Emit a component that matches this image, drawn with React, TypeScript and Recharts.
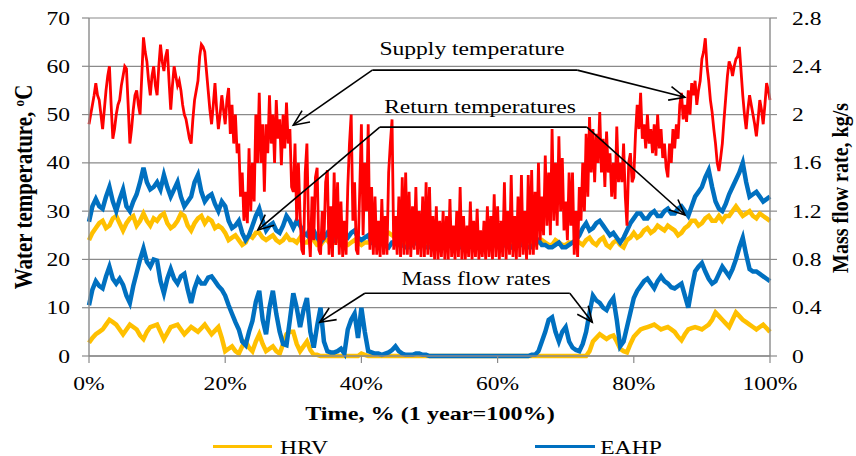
import React from "react";
import { CartesianGrid, Line, LineChart, ReferenceLine, XAxis, YAxis } from "recharts";

const SERIF = '"Liberation Serif", "Times New Roman", serif';
const STRETCH = 1.24;
const GRID = "#8a8a8a";
const RED = "#FF0000";
const BLUE = "#0070C0";
const YELLOW = "#FFC000";

const TIME_TICKS = [0, 20, 40, 60, 80, 100];
const TEMP_TICKS = [0, 10, 20, 30, 40, 50, 60, 70];
const FLOW_TICKS = [0, 0.4, 0.8, 1.2, 1.6, 2, 2.4, 2.8];

// supply temperature, °C, one value every 0.25 % of the year (20 per row = 5 %)
const supplyTemp = [
  48, 50, 52, 54, 56.5, 54, 53, 50, 47, 51, 55, 58, 60, 52, 45, 47, 50, 52, 53, 56,
  58, 60, 59.5, 52, 44, 47, 51, 54, 55, 52, 50, 58, 66, 63, 61, 57, 54, 58, 60, 56,
  54, 60, 64.5, 61, 59, 62, 63.5, 57, 51, 56, 60, 58, 56, 57, 55, 52, 50, 49, 47, 45,
  44, 49, 53, 55, 57, 62, 64.5, 64, 63, 59, 55, 51, 48, 52, 56.5, 51, 47, 50, 54, 51,
  48, 53, 55.5, 46, 52, 44, 50, 42, 44, 33, 38, 28, 34, 27.5, 43, 30, 40, 32, 50, 40,
  54.5, 40, 48, 34, 48, 42, 54, 44, 50, 40, 53, 45, 49, 39.5, 50, 43, 52.5, 44, 47, 35,
  34, 44, 28, 40, 29, 22, 21, 38, 44, 26, 20.5, 33, 24, 37, 39, 22, 21, 30, 24, 36,
  38.5, 21, 31, 20.5, 38, 23, 36, 21, 32, 20.5, 28, 21, 35, 44, 50, 28, 36, 22, 21, 34,
  48, 25, 40, 30, 48, 22, 35, 21, 33, 21, 28, 20.5, 32.5, 21, 29, 21, 38, 44, 49, 22,
  29, 21, 33, 20.5, 37, 21, 38, 21, 34, 20.5, 31, 22, 35, 21, 30, 20.5, 33, 20.5, 36, 21,
  35, 20.5, 29, 20, 31, 20, 28, 20.5, 30, 20, 29, 20, 32.5, 20.5, 27, 20, 30, 20.5, 35, 20,
  29, 20, 27, 20.5, 32, 20, 28, 20.5, 30.5, 20, 26, 20.5, 28, 20, 31, 20.5, 29, 20, 33.5, 20.5,
  31, 20, 28, 20.5, 36, 20, 30, 21, 37.5, 20.5, 29, 20, 33, 20.5, 37.5, 21, 30, 20, 37.5, 21,
  38.5, 21, 34, 22, 40, 24, 33, 25, 41.5, 27, 38, 25, 47, 28, 40, 27, 45.5, 30, 41, 26,
  32, 24, 38, 27, 38, 21, 30, 20.5, 35, 28, 40, 30, 46, 33, 49.5, 38, 47, 36, 46, 40,
  50.5, 38, 45, 35, 46.5, 38, 42, 33, 40, 32.5, 47.5, 36, 40, 36, 44, 33, 27, 40, 42, 36,
  37, 46, 52, 47, 54.5, 45, 48, 43, 50, 44, 47, 42, 48, 41.5, 50, 43, 47, 41, 44, 39,
  37, 44, 40, 47, 43, 48, 45, 52, 54.5, 49, 52, 48.5, 55, 50, 56.5, 54, 57, 52, 55, 57,
  61.5, 63, 65.8, 60, 57, 53, 50.5, 47, 44, 40, 38.3, 41, 44, 49, 53.5, 58, 61, 60, 58, 60,
  61.5, 62, 64, 59, 54, 50, 47, 51, 54, 52, 50, 48, 45.5, 49, 53, 51, 48, 52, 56.5, 55,
  53,
];

// return temperatures, °C, one value every 0.5 % (20 per row = 10 %)
const hrvReturn = [
  24, 25.5, 26.5, 27.5, 28, 26.5, 27, 28.5, 29, 27.5, 26, 27.5, 28.5, 29, 27, 28, 29.5, 28, 27, 28.5,
  28, 29, 29.5, 27.5, 26.5, 27, 28, 29.5, 29, 27, 26, 27.5, 28.5, 29, 27.5, 28.5, 28, 26.5, 27, 26.5,
  25.5, 24, 24.5, 25, 24, 23, 23.5, 25, 24.5, 25.5, 25.5, 24.5, 24, 24.5, 25, 24, 23.5, 24, 25, 24,
  24, 23.5, 24.5, 23.5, 23.5, 24.5, 24, 23, 23, 24, 24, 23, 23.5, 24, 24, 23, 23, 23.5, 24, 23.5,
  23, 23.5, 23.5, 24, 23.5, 25, 24.5, 25.5, 25.5, 25, 24.5, 24, 24, 23.5, 23.5, 24, 23.5, 23, 23, 23.5,
  23, 23.5, 23.5, 23, 23, 23.5, 23.5, 23, 23, 23.5, 23, 23.5, 23.5, 23, 23, 23.5, 23, 23, 23.5, 23,
  23, 23.5, 23, 23, 23.5, 23, 23, 23.5, 23, 23.5, 23.5, 23, 23.5, 24, 23.5, 23, 23, 24, 23.5, 23,
  23, 23.5, 23.5, 24, 23.5, 23, 24, 24.5, 23.5, 23, 24, 24.5, 23, 22.5, 23.5, 24, 23, 22.5, 24, 24.5,
  25.5, 24.5, 25, 26, 26.5, 25.5, 26, 27, 26.5, 26, 27, 26.5, 26, 25, 25.5, 26.5, 27, 28, 28, 27,
  27.5, 28.5, 29, 28, 28, 29, 28, 29, 29, 30, 31, 30, 29, 29.5, 30, 29, 28.5, 29.5, 29, 28.5,
  28,
];
const eahpReturn = [
  27.8, 31, 32.5, 31, 30.5, 33, 35, 32, 30, 32.5, 34.5, 31, 30, 32, 33.5, 36, 39, 36, 34.5, 35,
  36, 34.5, 37.5, 35, 33, 34.5, 36, 33, 31, 32, 33, 36, 37.5, 34, 32, 33, 33.5, 31.5, 30, 32,
  31, 28, 26.5, 27, 28, 25.5, 24, 25, 27, 29, 30.5, 28, 26, 27, 27.5, 26, 25.5, 27, 29, 28,
  26.5, 28, 27, 25.5, 25, 26.5, 26, 24.5, 23.5, 24.5, 25.5, 24.5, 24, 25, 26, 25, 24.5, 25.5, 26, 24.5,
  24, 24.5, 25, 23.5, 23, 23.5, 24, 23, 22.5, 23.5, 23.5, 23, 23, 22.5, 22.5, 23, 23.5, 23, 23, 22.5,
  22.5, 23, 23, 22.5, 22.5, 23, 23.5, 23, 22.5, 22.5, 23, 23.5, 23, 22.5, 22.5, 23, 23.5, 23, 22.5, 23,
  23, 22.5, 23, 23, 22.5, 23, 23.5, 23, 23, 22.5, 22.5, 23.5, 24, 23, 23, 22.5, 22.5, 23, 23.5, 22.5,
  22.5, 23, 23.5, 24, 25, 26.5, 27.5, 26, 26.5, 27.5, 28, 27, 26, 25, 25.5, 24.5, 23.5, 24.5, 26, 27.5,
  28.5, 29.5, 29.5, 28.5, 28.5, 29.5, 30, 29, 29, 30, 30.5, 29.5, 29.5, 30.5, 31, 30, 29, 31, 33, 34,
  35, 37, 38.5, 35, 32, 30.5, 30, 31.5, 33.5, 35, 36.5, 38, 40, 36, 33, 33.5, 34, 33, 32, 32.5,
  33,
];

// mass flow rates, kg/s, one value every 0.5 % (20 per row = 10 %)
const hrvFlow = [
  0.11, 0.15, 0.18, 0.2, 0.22, 0.26, 0.3, 0.28, 0.26, 0.22, 0.18, 0.22, 0.26, 0.24, 0.22, 0.17, 0.14, 0.2, 0.24, 0.25,
  0.26, 0.2, 0.14, 0.19, 0.24, 0.25, 0.26, 0.22, 0.18, 0.21, 0.24, 0.22, 0.2, 0.23, 0.26, 0.22, 0.18, 0.21, 0.24, 0.15,
  0.04, 0.06, 0.08, 0.04, 0.02, 0.08, 0.12, 0.07, 0.04, 0.12, 0.18, 0.1, 0.04, 0.06, 0.08, 0.04, 0.02, 0.1, 0.18, 0.2,
  0.2, 0.1, 0.04, 0.08, 0.12, 0.05, 0.01, 0.01, 0, 0, 0, 0, 0, 0, 0, 0, 0, 0, 0, 0,
  0.02, 0.01, 0, 0, 0, 0, 0, 0, 0, 0, 0, 0, 0, 0, 0, 0, 0, 0, 0, 0,
  0, 0, 0, 0, 0, 0, 0, 0, 0, 0, 0, 0, 0, 0, 0, 0, 0, 0, 0, 0,
  0, 0, 0, 0, 0, 0, 0, 0, 0, 0, 0, 0, 0, 0, 0, 0, 0, 0, 0, 0,
  0, 0, 0, 0, 0, 0, 0, 0.04, 0.12, 0.15, 0.18, 0.16, 0.14, 0.16, 0.17, 0.12, 0.06, 0.04, 0.03, 0.1,
  0.16, 0.19, 0.22, 0.23, 0.24, 0.25, 0.26, 0.24, 0.22, 0.23, 0.24, 0.22, 0.2, 0.16, 0.13, 0.18, 0.22, 0.23, 0.24, 0.23,
  0.22, 0.24, 0.26, 0.3, 0.36, 0.33, 0.3, 0.27, 0.24, 0.3, 0.36, 0.33, 0.3, 0.28, 0.26, 0.24, 0.22, 0.24, 0.26, 0.23,
  0.2,
];
const eahpFlow = [
  0.42, 0.55, 0.62, 0.58, 0.56, 0.66, 0.74, 0.64, 0.6, 0.64, 0.59, 0.5, 0.44, 0.58, 0.69, 0.8, 0.89, 0.78, 0.74, 0.8,
  0.79, 0.62, 0.52, 0.64, 0.72, 0.64, 0.6, 0.66, 0.68, 0.55, 0.44, 0.56, 0.64, 0.6, 0.6, 0.65, 0.66, 0.62, 0.58, 0.55,
  0.5, 0.42, 0.35, 0.28, 0.22, 0.12, 0.09, 0.2, 0.29, 0.45, 0.54, 0.3, 0.18, 0.4, 0.54, 0.35, 0.2, 0.1, 0.09, 0.3,
  0.52, 0.4, 0.24, 0.38, 0.48, 0.2, 0.07, 0.25, 0.4, 0.12, 0.04, 0.03, 0.03, 0.04, 0.06, 0.02, 0.22, 0.3, 0.35, 0.15,
  0.4, 0.2, 0.04, 0.03, 0.02, 0.02, 0.01, 0.02, 0.03, 0.05, 0.08, 0.04, 0.02, 0.01, 0.01, 0.01, 0.02, 0.02, 0.01, 0.01,
  0, 0, 0, 0, 0, 0, 0, 0, 0, 0, 0, 0, 0, 0, 0, 0, 0, 0, 0, 0,
  0, 0, 0, 0, 0, 0, 0, 0, 0, 0, 0.01, 0.01, 0.04, 0.12, 0.2, 0.3, 0.32, 0.2, 0.12, 0.2,
  0.24, 0.12, 0.07, 0.05, 0.04, 0.1, 0.2, 0.36, 0.5, 0.46, 0.44, 0.4, 0.38, 0.44, 0.48, 0.3, 0.08, 0.12, 0.24, 0.36,
  0.48, 0.54, 0.58, 0.62, 0.64, 0.6, 0.56, 0.62, 0.66, 0.62, 0.6, 0.57, 0.56, 0.58, 0.6, 0.5, 0.4, 0.56, 0.7, 0.74,
  0.77, 0.7, 0.64, 0.6, 0.62, 0.68, 0.74, 0.7, 0.66, 0.72, 0.8, 0.9, 0.98, 0.84, 0.72, 0.7, 0.7, 0.68, 0.66, 0.64,
  0.62,
];

const toSeries = (values: number[], step: number) => values.map((v, i) => ({ t: i * step, v }));

const supplyData = toSeries(supplyTemp, 0.25);
const hrvReturnData = toSeries(hrvReturn, 0.5);
const eahpReturnData = toSeries(eahpReturn, 0.5);
const hrvFlowData = toSeries(hrvFlow, 0.5);
const eahpFlowData = toSeries(eahpFlow, 0.5);

// callout arrows in (time %, °C): a horizontal bar and two pointers
const CALLOUTS = [
  { left: [41.6, 59.2], right: [71.7, 59.2], tipL: [30.0, 47.8], tipR: [87.5, 53.6] },
  { left: [42.7, 47.4], right: [73.1, 47.4], tipL: [24.8, 26.1], tipR: [87.5, 29.2] },
  { left: [40.5, 13.0], right: [70.6, 13.0], tipL: [33.9, 7.0], tipR: [73.9, 7.0] },
];

const plainSeg = (p: any) => (
  <line x1={p.x1} y1={p.y1} x2={p.x2} y2={p.y2} stroke="#000" strokeWidth={1.6} />
);

const arrowSeg = (p: any) => {
  const a = Math.atan2(p.y2 - p.y1, p.x2 - p.x1);
  const len = 17;
  const w = 0.42;
  const ax = p.x2 - len * Math.cos(a - w);
  const ay = p.y2 - len * Math.sin(a - w);
  const bx = p.x2 - len * Math.cos(a + w);
  const by = p.y2 - len * Math.sin(a + w);
  return (
    <g stroke="#000" strokeWidth={1.6} fill="none">
      <line x1={p.x1} y1={p.y1} x2={p.x2} y2={p.y2} />
      <path d={`M${ax},${ay} L${p.x2},${p.y2} L${bx},${by}`} />
    </g>
  );
};

const tickText = (anchor: "start" | "middle" | "end", dy: number, fmt: (v: number) => string) =>
  (p: any) => (
    <g transform={`translate(${p.x},${p.y})`}>
      <text transform={`scale(${STRETCH},1)`} textAnchor={anchor} dy={dy} fontFamily={SERIF} fontSize={19} fill="#000">
        {fmt(p.payload.value)}
      </text>
    </g>
  );

const textStyle = (x: number, y: number, extra: React.CSSProperties = {}): React.CSSProperties => ({
  position: "absolute",
  left: x,
  top: y,
  transform: `translate(-50%,-50%) scaleX(${STRETCH})`,
  whiteSpace: "nowrap",
  fontFamily: SERIF,
  fontSize: 19,
  lineHeight: 1,
  color: "#000",
  ...extra,
});

const vTitle = (x: number, y: number, size: number): React.CSSProperties => ({
  position: "absolute",
  left: x,
  top: y,
  transform: `translate(-50%,-50%) rotate(-90deg) scaleY(1.15)`,
  whiteSpace: "nowrap",
  fontFamily: SERIF,
  fontSize: size,
  fontWeight: "bold",
  lineHeight: 1,
  color: "#000",
});

export default function App() {
  return (
    <div style={{ position: "absolute", left: 0, top: 0, width: 856, height: 456, background: "#fff", overflow: "hidden" }}>
      <LineChart width={856} height={456} margin={{ top: 18, right: 46, left: 49, bottom: 70 }}>
        <CartesianGrid yAxisId="temp" vertical={false} stroke={GRID} strokeWidth={1.2} />
        <XAxis
          type="number"
          dataKey="t"
          domain={[0, 100]}
          ticks={TIME_TICKS}
          height={30}
          tickSize={7}
          tickMargin={2}
          stroke={GRID}
          axisLine={{ stroke: GRID, strokeWidth: 1.4 }}
          tickLine={{ stroke: GRID, strokeWidth: 1.2 }}
          tick={tickText("middle", 25, (v) => `${v}%`)}
        />
        <YAxis
          yAxisId="temp"
          domain={[0, 70]}
          ticks={TEMP_TICKS}
          width={40}
          tickSize={7}
          tickMargin={12}
          axisLine={{ stroke: GRID, strokeWidth: 1.4 }}
          tickLine={{ stroke: GRID, strokeWidth: 1.2 }}
          tick={tickText("end", 6.5, (v) => `${v}`)}
        />
        <YAxis
          yAxisId="flow"
          orientation="right"
          domain={[0, 2.8]}
          ticks={FLOW_TICKS}
          width={40}
          tickSize={7}
          tickMargin={15}
          axisLine={{ stroke: GRID, strokeWidth: 1.4 }}
          tickLine={{ stroke: GRID, strokeWidth: 1.2 }}
          tick={tickText("start", 6.5, (v) => `${v}`)}
        />
        <Line data={hrvFlowData} dataKey="v" yAxisId="flow" type="linear" stroke={YELLOW} strokeWidth={4.5} dot={false} isAnimationActive={false} />
        <Line data={eahpFlowData} dataKey="v" yAxisId="flow" type="linear" stroke={BLUE} strokeWidth={4.5} dot={false} isAnimationActive={false} />
        <Line data={hrvReturnData} dataKey="v" yAxisId="temp" type="linear" stroke={YELLOW} strokeWidth={4.5} dot={false} isAnimationActive={false} />
        <Line data={eahpReturnData} dataKey="v" yAxisId="temp" type="linear" stroke={BLUE} strokeWidth={4.5} dot={false} isAnimationActive={false} />
        <Line data={supplyData} dataKey="v" yAxisId="temp" type="linear" stroke={RED} strokeWidth={2.8} dot={false} isAnimationActive={false} />
        {CALLOUTS.map((c, i) => (
          <React.Fragment key={i}>
            <ReferenceLine yAxisId="temp" segment={[{ x: c.left[0], y: c.left[1] }, { x: c.right[0], y: c.right[1] }]} shape={plainSeg} />
            <ReferenceLine yAxisId="temp" segment={[{ x: c.left[0], y: c.left[1] }, { x: c.tipL[0], y: c.tipL[1] }]} shape={arrowSeg} />
            <ReferenceLine yAxisId="temp" segment={[{ x: c.right[0], y: c.right[1] }, { x: c.tipR[0], y: c.tipR[1] }]} shape={arrowSeg} />
          </React.Fragment>
        ))}
      </LineChart>

      <div style={textStyle(472, 48)}>Supply temperature</div>
      <div style={textStyle(480, 106)}>Return temperatures</div>
      <div style={textStyle(476, 278)}>Mass flow rates</div>

      <div style={vTitle(24, 187, 21)}>
        Water temperature, <span style={{ fontSize: "0.62em", verticalAlign: "0.55em" }}>o</span>C
      </div>
      <div style={vTitle(840, 188, 20)}>Mass flow rate, kg/s</div>
      <div style={textStyle(430, 414, { fontWeight: "bold", fontSize: 19.5 })}>Time, % (1 year=100%)</div>

      <div style={{ position: "absolute", left: 213, top: 445, width: 59, height: 3, background: YELLOW }} />
      <div style={textStyle(304, 447)}>HRV</div>
      <div style={{ position: "absolute", left: 535, top: 445, width: 60, height: 3, background: BLUE }} />
      <div style={textStyle(631, 447)}>EAHP</div>
    </div>
  );
}
